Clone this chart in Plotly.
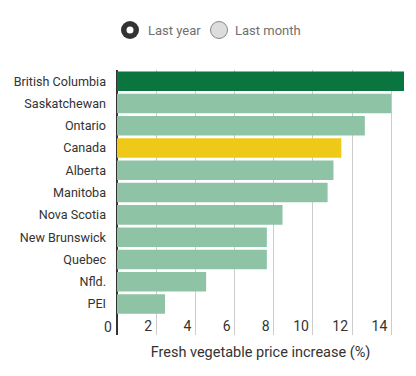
import plotly.graph_objects as go

provinces = ["British Columbia", "Saskatchewan", "Ontario", "Canada", "Alberta",
             "Manitoba", "Nova Scotia", "New Brunswick", "Quebec", "Nfld.", "PEI"]
increase = [14.65, 14.0, 12.65, 11.45, 11.05, 10.75, 8.45, 7.65, 7.65, 4.55, 2.45]
x_ticks = [0, 2, 4, 6, 8, 10, 12, 14]
legend_labels = ["Last year", "Last month"]

def bar_color(name, i):
    if i == 0:
        return "#0b7540"
    if name == "Canada":
        return "#efc918"
    return "#8fc3a5"

colors = [bar_color(n, i) for i, n in enumerate(provinces)]

fig = go.Figure(go.Bar(
    x=increase, y=provinces, orientation="h",
    marker=dict(color=colors, line=dict(width=0)),
    hoverinfo="x+y",
))

OFF = 8  # page body margin
W, H = 416 - OFF, 376 - OFF
L, R, T, B = 117 - OFF, 12, 70 - OFF, 41
pw, ph = W - L - R, H - T - B

def px(x):
    return (x - OFF - L) / pw

def py(y):
    return (H - B - (y - OFF)) / ph

shapes = [
    dict(type="circle", xref="paper", yref="paper",
         x0=px(121), x1=px(139), y0=py(39), y1=py(21),
         fillcolor="#333333", line=dict(width=0)),
    dict(type="circle", xref="paper", yref="paper",
         x0=px(126.5), x1=px(133.5), y0=py(33.5), y1=py(26.5),
         fillcolor="#ffffff", line=dict(width=0)),
    dict(type="circle", xref="paper", yref="paper",
         x0=px(210.5), x1=px(227.5), y0=py(38.5), y1=py(21.5),
         fillcolor="#dddddd", line=dict(width=1, color="#888888")),
]
annotations = [
    dict(text=legend_labels[0], xref="paper", yref="paper", x=px(146), y=py(30),
         xanchor="left", yanchor="middle", showarrow=False,
         font=dict(size=13, color="#707070")),
    dict(text=legend_labels[1], xref="paper", yref="paper", x=px(233), y=py(30),
         xanchor="left", yanchor="middle", showarrow=False,
         font=dict(size=13, color="#707070")),
    dict(text=str(x_ticks[0]), xref="x", yref="paper", x=x_ticks[0], y=py(327),
         xanchor="right", yanchor="middle", xshift=-3, showarrow=False,
         font=dict(size=14, color="#333333")),
]

fig.update_layout(
    width=W, height=H,
    margin=dict(l=L, r=R, t=T, b=B, pad=0, autoexpand=False),
    paper_bgcolor="white", plot_bgcolor="white",
    font=dict(family="Roboto, sans-serif", size=13, color="#333333"),
    bargap=0.124,
    showlegend=False,
    shapes=shapes,
    annotations=annotations,
    xaxis=dict(
        range=[0, 14.65], tickvals=x_ticks[1:], ticktext=[str(t) for t in x_ticks[1:]],
        showgrid=True, gridcolor="#cccccc", gridwidth=1,
        zeroline=True, zerolinecolor="#333333", zerolinewidth=2,
        ticklabelposition="inside left", ticks="",
        ticklabelshift=-4, ticklabelstandoff=-5,
        tickfont=dict(size=14, color="#333333"),
        title=dict(text="Fresh vegetable price increase (%)", standoff=13,
                   font=dict(size=14.5, color="#333333")),
        automargin=False,
        fixedrange=True,
    ),
    yaxis=dict(
        categoryorder="array", categoryarray=provinces,
        range=[11.39, -0.5], showgrid=False, zeroline=False,
        ticks="", ticklabelstandoff=10,
        tickfont=dict(size=12.6, color="#333333"),
        automargin=False,
        fixedrange=True,
    ),
)

fig.write_html("out.html")
